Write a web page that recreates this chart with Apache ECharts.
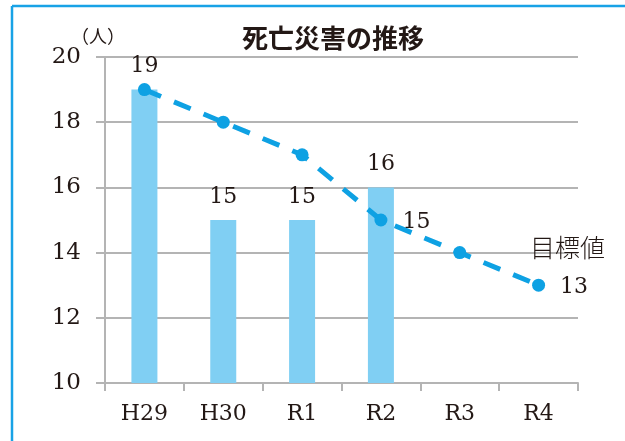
<!DOCTYPE html>
<html><head><meta charset="utf-8">
<script src="https://cdn.jsdelivr.net/npm/echarts@6/dist/echarts.min.js"></script>
<style>html,body{margin:0;padding:0;background:#fff}#c{width:625px;height:441px}</style>
</head><body><div id="c"></div>
<script>
const categories = ['H29', 'H30', 'R1', 'R2', 'R3', 'R4'];
const actualValues = [19, 15, 15, 16, null, null];
const targetValues = [19, 18, 17, 15, 14, 13];
const targetLabelled = [false, false, false, true, false, true];
const yTicks = [10, 12, 14, 16, 18, 20];
const titleText = '死亡災害の推移';
const unitText = '（人）';
const targetName = '目標値';

const serif = '"DejaVu Serif", "Liberation Serif", serif';
const jp = '"Noto Sans CJK JP", sans-serif';
const ink = '#231815';
const axisGray = '#b4b4b4';
const chart = echarts.init(document.getElementById('c'));
chart.setOption({
  animation: false,
  title: {
    text: titleText, left: 328, top: 20, textAlign: 'center',
    textStyle: { fontFamily: jp, fontWeight: 'bold', fontSize: 26, color: ink }
  },
  graphic: [
    { type: 'line', shape: { x1: 12, y1: 6, x2: 625, y2: 6 }, style: { stroke: '#18a2e6', lineWidth: 2.5 } },
    { type: 'line', shape: { x1: 12, y1: 6, x2: 12, y2: 441 }, style: { stroke: '#18a2e6', lineWidth: 2.5 } }
  ],
  grid: { left: 105, right: 47, top: 57, bottom: 58 },
  xAxis: {
    type: 'category', data: categories,
    axisLine: { lineStyle: { color: axisGray, width: 2 } },
    axisTick: { show: true, length: 8, lineStyle: { color: axisGray, width: 2 } },
    axisLabel: { fontFamily: serif, fontSize: 22, color: ink, margin: 20 }
  },
  yAxis: {
    type: 'value', min: yTicks[0], max: yTicks[yTicks.length - 1], interval: 2,
    name: unitText, nameLocation: 'end', nameGap: 9,
    nameTextStyle: { fontFamily: jp, fontSize: 18, color: ink, align: 'center', padding: [0, 14, 0, 0] },
    axisLine: { show: true, lineStyle: { color: axisGray, width: 2 } },
    axisTick: { show: true, length: 9, inside: false, lineStyle: { color: axisGray, width: 2 } },
    splitLine: { lineStyle: { color: axisGray, width: 2 } },
    axisLabel: { fontFamily: serif, fontSize: 23, color: ink, margin: 24 }
  },
  series: [
    {
      type: 'bar', data: actualValues, barWidth: 26,
      itemStyle: { color: '#80cff3' },
      label: { show: true, position: 'top', distance: 12, fontFamily: serif, fontSize: 22, color: ink }
    },
    {
      type: 'line', data: targetValues.map((v, i) => ({
        value: v,
        label: { show: targetLabelled[i], position: 'right', offset: [10, 2], fontFamily: serif, fontSize: 22, color: ink }
      })),
      symbol: 'circle', symbolSize: 13,
      lineStyle: { color: '#0ea1e3', width: 5, type: [18, 14] },
      itemStyle: { color: '#0ea1e3' },
      markPoint: {
        symbol: 'circle', symbolSize: 0,
        data: [{ coord: [categories.length - 1, targetValues[targetValues.length - 1]], value: targetName }],
        label: { show: true, formatter: targetName, offset: [29, -38], fontFamily: jp, fontSize: 25, fontWeight: 300, color: ink }
      }
    }
  ]
});
</script></body></html>
